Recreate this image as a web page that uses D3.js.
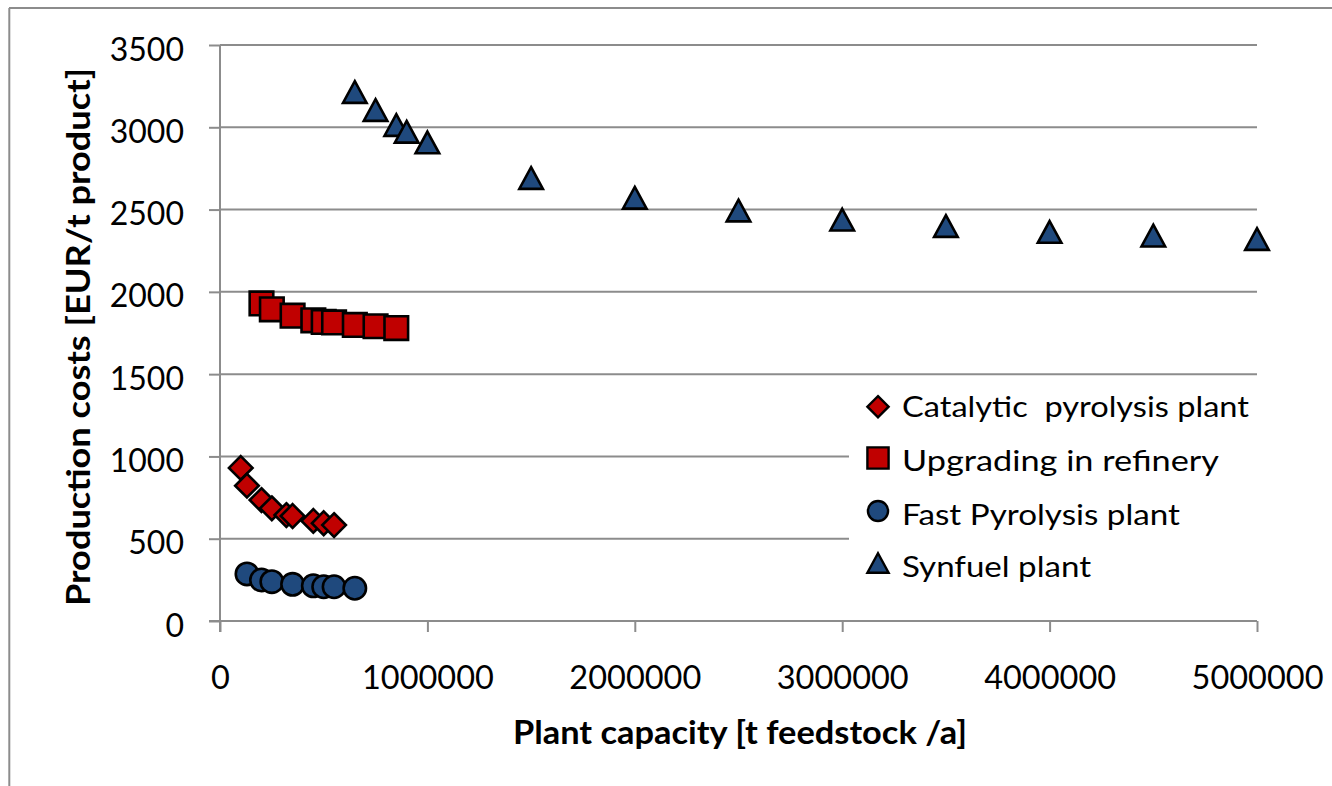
<!DOCTYPE html>
<html>
<head>
<meta charset="utf-8">
<script src="https://cdn.jsdelivr.net/npm/d3@7"></script>
<style>
  html, body { margin: 0; padding: 0; background: #fff; }
  svg { display: block; }
  text { font-family: Lato, "Open Sans", "Liberation Sans", sans-serif; fill: #000; }
</style>
</head>
<body>
<svg id="chart" width="1332" height="786"></svg>
<script>
// ---- Data ----
const seriesNames = ["Catalytic  pyrolysis plant", "Upgrading in refinery", "Fast Pyrolysis plant", "Synfuel plant"];

const catalyticX = [100000, 130000, 200000, 250000, 320000, 350000, 450000, 500000, 550000];
const catalyticY = [930, 822, 735, 685, 644, 638, 608, 594, 583];

const upgradingX = [200000, 250000, 350000, 450000, 500000, 550000, 650000, 750000, 850000];
const upgradingY = [1930, 1894, 1855, 1827, 1817, 1814, 1799, 1791, 1780];

const fastX = [130000, 200000, 250000, 350000, 450000, 500000, 550000, 650000];
const fastY = [286, 249, 239, 223, 214, 208, 208, 199];

const synfuelX = [650000, 750000, 850000, 900000, 1000000, 1500000, 2000000, 2500000, 3000000, 3500000, 4000000, 4500000, 5000000];
const synfuelY = [3214, 3105, 3014, 2973, 2908, 2692, 2572, 2494, 2439, 2400, 2364, 2342, 2321];

const xTicks = [0, 1000000, 2000000, 3000000, 4000000, 5000000];
const yTicks = [0, 500, 1000, 1500, 2000, 2500, 3000, 3500];

const xTitle = "Plant capacity [t feedstock /a]";
const yTitle = "Production costs [EUR/t product]";

// ---- Styles ----
const RED = "#C00000";
const BLUE = "#1F497D";
const GRID = "#8C8C8C";

// custom symbol types (size = half-extent squared)
const symDiamond = { draw(ctx, size) { const r = Math.sqrt(size); ctx.moveTo(0, -r); ctx.lineTo(r, 0); ctx.lineTo(0, r); ctx.lineTo(-r, 0); ctx.closePath(); } };
const symSquare  = { draw(ctx, size) { const r = Math.sqrt(size); ctx.rect(-r, -r, 2 * r, 2 * r); } };
const symCircle  = { draw(ctx, size) { const r = Math.sqrt(size) * 0.95; ctx.moveTo(r, 0); ctx.arc(0, 0, r, 0, 2 * Math.PI); } };
const symTri     = { draw(ctx, size) { const r = Math.sqrt(size); const h = r * 0.92; ctx.moveTo(0, -h); ctx.lineTo(r, h); ctx.lineTo(-r, h); ctx.closePath(); } };

const series = [
  { name: seriesNames[0], xs: catalyticX, ys: catalyticY, color: RED,  type: symDiamond },
  { name: seriesNames[1], xs: upgradingX, ys: upgradingY, color: RED,  type: symSquare },
  { name: seriesNames[2], xs: fastX,      ys: fastY,      color: BLUE, type: symCircle },
  { name: seriesNames[3], xs: synfuelX,   ys: synfuelY,   color: BLUE, type: symTri }
];

const svg = d3.select("#chart");

// outer chart border (top & left visible)
svg.append("line").attr("x1", 9).attr("y1", 8).attr("x2", 1332).attr("y2", 8)
  .attr("stroke", GRID).attr("stroke-width", 2);
svg.append("line").attr("x1", 9.3).attr("y1", 8).attr("x2", 9.3).attr("y2", 786)
  .attr("stroke", GRID).attr("stroke-width", 2);

const x = d3.scaleLinear().domain([0, 5000000]).range([220, 1257]);
const y = d3.scaleLinear().domain([0, 3500]).range([621, 45]);

// gridlines
svg.append("g").selectAll("line").data(yTicks.filter(d => d > 0)).join("line")
  .attr("x1", x(0)).attr("x2", x(5000000))
  .attr("y1", d => y(d)).attr("y2", d => y(d))
  .attr("stroke", GRID).attr("stroke-width", 2);

// axes
const yAxis = svg.append("g").attr("transform", `translate(${x(0)},0)`)
  .call(d3.axisLeft(y).tickValues(yTicks).tickSize(11).tickPadding(25).tickFormat(d3.format("d")));
const xAxis = svg.append("g").attr("transform", `translate(0,${y(0)})`)
  .call(d3.axisBottom(x).tickValues(xTicks).tickSize(11).tickPadding(34).tickFormat(d3.format("d")));

[xAxis, yAxis].forEach(g => {
  g.select(".domain").attr("stroke", GRID).attr("stroke-width", 2);
  g.selectAll(".tick line").attr("stroke", GRID).attr("stroke-width", 2);
  g.selectAll(".tick text").attr("fill", "#000")
    .style("font-family", "Lato, 'Open Sans', sans-serif");
});
yAxis.select(".domain").attr("d", `M0,${y(3500)}V${y(0) + 11}`);
xAxis.select(".domain").attr("d", `M${x(0) - 11},0H${x(5000000)}`);
yAxis.selectAll(".tick text").style("font-size", "32px").attr("dy", "0.47em");
xAxis.selectAll(".tick text").style("font-size", "32.5px").attr("dy", "0.71em");

// legend background box
svg.append("rect").attr("x", 849).attr("y", 382).attr("width", 414).attr("height", 210).attr("fill", "#fff");

// markers
const sym = d3.symbol();
series.forEach(s => {
  const pts = s.xs.map((v, i) => [v, s.ys[i]]);
  svg.append("g").selectAll("path").data(pts).join("path")
    .attr("transform", d => `translate(${x(d[0])},${y(d[1])})`)
    .attr("d", sym.type(s.type).size(11.8 * 11.8)())
    .attr("fill", s.color).attr("stroke", "#000").attr("stroke-width", 2.6)
    .attr("stroke-linejoin", "miter");
});

// legend
const legendRows = [406.7, 458, 511, 563];
const legendBase = [416.7, 470.5, 525, 577];
const legendWidths = [347, 317, 278, 189];
const lg = svg.append("g");
series.forEach((s, i) => {
  lg.append("path")
    .attr("transform", `translate(878,${legendRows[i]})`)
    .attr("d", d3.symbol().type(s.type).size(10.6 * 10.6)())
    .attr("fill", s.color).attr("stroke", "#000").attr("stroke-width", 2.4);
  lg.append("text").attr("x", 902).attr("y", legendBase[i])
    .attr("xml:space", "preserve")
    .style("white-space", "pre")
    .style("font-size", "28px")
    .attr("textLength", legendWidths[i]).attr("lengthAdjust", "spacingAndGlyphs")
    .text(s.name);
});

// axis titles
svg.append("text").attr("x", 740).attr("y", 744).attr("text-anchor", "middle")
  .style("font-size", "31.5px").style("font-weight", "bold")
  .attr("textLength", 454).attr("lengthAdjust", "spacingAndGlyphs")
  .text(xTitle);
svg.append("text").attr("transform", "translate(90,337) rotate(-90)").attr("text-anchor", "middle")
  .style("font-size", "31.5px").style("font-weight", "bold")
  .attr("textLength", 538).attr("lengthAdjust", "spacingAndGlyphs")
  .text(yTitle);
</script>
</body>
</html>
